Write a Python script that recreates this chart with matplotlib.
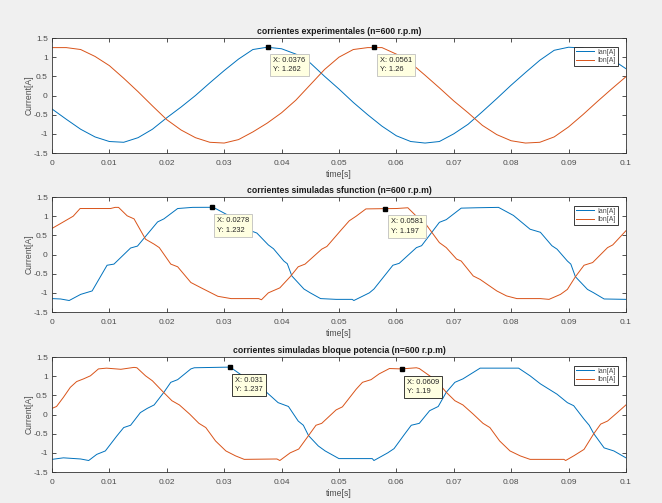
import matplotlib
matplotlib.use("Agg")
import matplotlib.pyplot as plt

plt.rcParams['font.family'] = ['Liberation Sans', 'DejaVu Sans']

# corrientes experimentales
t_exp = [0, 0.0025, 0.005, 0.0075, 0.01, 0.0125, 0.015, 0.0175, 0.02, 0.0225,
         0.025, 0.0275, 0.03, 0.0325, 0.035, 0.0375, 0.04, 0.0425, 0.045, 0.0475,
         0.05, 0.0525, 0.055, 0.0575, 0.06, 0.0625, 0.065, 0.0675, 0.07, 0.0725,
         0.075, 0.0775, 0.08, 0.0825, 0.085, 0.0875, 0.09, 0.0925, 0.095, 0.0975, 0.1]
ian_exp = [-0.35, -0.62, -0.88, -1.08, -1.2, -1.22, -1.1, -0.88, -0.58, -0.3,
           0.0, 0.33, 0.65, 0.95, 1.2, 1.26, 1.22, 1.08, 0.85, 0.5,
           0.17, -0.18, -0.5, -0.8, -1.05, -1.2, -1.24, -1.2, -1.0, -0.75,
           -0.42, -0.08, 0.27, 0.6, 0.92, 1.18, 1.26, 1.24, 1.1, 0.95, 0.7]
ibn_exp = [1.25, 1.25, 1.2, 1.02, 0.78, 0.45, 0.1, -0.27, -0.63, -0.9,
           -1.1, -1.22, -1.24, -1.15, -0.95, -0.72, -0.45, -0.12, 0.28, 0.68,
           1.0, 1.2, 1.25, 1.25, 1.08, 0.85, 0.53, 0.2, -0.14, -0.45,
           -0.78, -1.02, -1.18, -1.24, -1.22, -1.08, -0.82, -0.5, -0.16, 0.17, 0.49]

# corrientes simuladas sfunction
t_ian_sf = [0, 0.0015, 0.003, 0.005, 0.007, 0.0096, 0.0108, 0.0137, 0.0149, 0.0184,
            0.0195, 0.0219, 0.0245, 0.0278, 0.0285, 0.031, 0.0339, 0.0357, 0.0377, 0.0386,
            0.0404, 0.041, 0.0418, 0.0439, 0.045, 0.0468, 0.0495, 0.0523, 0.0526, 0.0553,
            0.0561, 0.0594, 0.0605, 0.0635, 0.0644, 0.0675, 0.0687, 0.0713, 0.074, 0.0778,
            0.0804, 0.0833, 0.0851, 0.0871, 0.088, 0.0898, 0.0904, 0.0912, 0.0933, 0.0944,
            0.0962, 0.1]
ian_sf = [-1.15, -1.16, -1.2, -1.04, -0.95, -0.28, -0.25, 0.17, 0.22, 0.85,
          0.93, 1.2, 1.23, 1.232, 1.2, 1.0, 0.66, 0.56, 0.25, 0.15,
          -0.17, -0.24, -0.56, -0.9, -1.0, -1.15, -1.17, -1.17, -1.2, -1.0,
          -0.9, -0.28, -0.23, 0.18, 0.23, 0.84, 0.91, 1.21, 1.22, 1.23,
          1.02, 0.66, 0.58, 0.23, 0.14, -0.17, -0.25, -0.58, -0.91, -1.0,
          -1.16, -1.17]
t_ibn_sf = [0, 0.0014, 0.0037, 0.0049, 0.0102, 0.011, 0.0116, 0.0131, 0.0143, 0.0163,
            0.0178, 0.0187, 0.0207, 0.0219, 0.0242, 0.026, 0.0289, 0.0312, 0.036, 0.0365,
            0.0377, 0.0397, 0.0415, 0.0429, 0.0441, 0.047, 0.0479, 0.0505, 0.0518, 0.053,
            0.0547, 0.0581, 0.06, 0.062, 0.0643, 0.0652, 0.0675, 0.0687, 0.0705, 0.0713,
            0.0734, 0.0746, 0.0775, 0.0792, 0.081, 0.0851, 0.0866, 0.0886, 0.0898, 0.0912,
            0.0927, 0.0942, 0.0968, 0.0977, 0.1]
ibn_sf = [0.68, 0.8, 1.0, 1.2, 1.2, 1.23, 1.23, 1.01, 0.93, 0.4,
          0.27, 0.18, -0.25, -0.32, -0.73, -0.87, -1.09, -1.15, -1.15, -1.18,
          -1.0, -0.87, -0.58, -0.32, -0.25, 0.14, 0.21, 0.66, 0.88, 1.0,
          1.19, 1.197, 1.2, 1.22, 0.88, 0.78, 0.31, 0.18, -0.12, -0.17,
          -0.56, -0.65, -0.95, -1.08, -1.15, -1.15, -1.17, -1.04, -0.91, -0.58,
          -0.28, -0.21, 0.18, 0.25, 0.62]

# corrientes simuladas bloque potencia
t_ian_bp = [0, 0.002, 0.005, 0.0064, 0.0078, 0.0093, 0.0113, 0.0125, 0.0137, 0.0154,
            0.0166, 0.0178, 0.0195, 0.0207, 0.0219, 0.0242, 0.0248, 0.031, 0.0313, 0.0333,
            0.0351, 0.0371, 0.0394, 0.0412, 0.0429, 0.0438, 0.0447, 0.0464, 0.0476, 0.05,
            0.0558, 0.0561, 0.0585, 0.0596, 0.0614, 0.0626, 0.064, 0.0658, 0.0673, 0.0687,
            0.0702, 0.0716, 0.0746, 0.0813, 0.0833, 0.0851, 0.088, 0.0898, 0.0909, 0.0927,
            0.0936, 0.0944, 0.0962, 0.0979, 0.1]
ian_bp = [-1.17, -1.13, -1.16, -1.2, -1.04, -0.95, -0.56, -0.34, -0.28, 0.05,
          0.16, 0.25, 0.58, 0.84, 0.91, 1.19, 1.22, 1.237, 1.21, 1.0,
          0.8, 0.62, 0.31, 0.21, -0.17, -0.28, -0.55, -0.82, -0.95, -1.15,
          -1.15, -1.2, -1.0, -0.89, -0.52, -0.28, -0.23, 0.1, 0.21, 0.58,
          0.84, 0.93, 1.21, 1.21, 1.01, 0.8, 0.53, 0.31, 0.23, -0.12,
          -0.28, -0.5, -0.87, -0.95, -1.13]
t_ibn_bp = [0, 0.0008, 0.002, 0.0032, 0.0043, 0.0055, 0.0067, 0.0081, 0.0095, 0.012,
            0.0143, 0.0148, 0.0163, 0.0175, 0.0193, 0.0209, 0.0222, 0.024, 0.0256, 0.0268,
            0.0285, 0.0303, 0.032, 0.0335, 0.0392, 0.0397, 0.0415, 0.043, 0.0447, 0.046,
            0.047, 0.0495, 0.0506, 0.053, 0.0541, 0.0556, 0.057, 0.0588, 0.0609, 0.0635,
            0.064, 0.0658, 0.067, 0.0687, 0.0702, 0.0716, 0.0734, 0.0751, 0.0763, 0.078,
            0.0798, 0.0816, 0.0833, 0.0892, 0.0895, 0.091, 0.0927, 0.0944, 0.0956, 0.0968,
            0.0985, 0.1]
ibn_bp = [0.16, 0.21, 0.45, 0.71, 0.86, 0.93, 1.01, 1.19, 1.21, 1.18,
          1.23, 1.22, 1.01, 0.88, 0.6, 0.36, 0.25, 0.01, -0.23, -0.34,
          -0.69, -0.95, -1.08, -1.17, -1.16, -1.2, -1.0, -0.9, -0.55, -0.28,
          -0.23, 0.12, 0.2, 0.66, 0.84, 0.91, 1.06, 1.2, 1.19, 1.22,
          1.2, 1.01, 0.88, 0.58, 0.36, 0.25, 0.01, -0.23, -0.34, -0.69,
          -0.95, -1.08, -1.17, -1.17, -1.2, -1.07, -0.91, -0.5, -0.25, -0.17,
          0.05, 0.25]

titles = ["corrientes experimentales (n=600 r.p.m)",
          "corrientes simuladas sfunction (n=600 r.p.m)",
          "corrientes simuladas bloque potencia (n=600 r.p.m)"]
tips = [[(0.0376, 1.262), (0.0561, 1.26)],
        [(0.0278, 1.232), (0.0581, 1.197)],
        [(0.031, 1.237), (0.0609, 1.19)]]
tip_edges = ['0.75', '0.75', '0.1']

x_ticks = [0, 0.01, 0.02, 0.03, 0.04, 0.05, 0.06, 0.07, 0.08, 0.09, 0.1]
x_labels = ['0', '0.01', '0.02', '0.03', '0.04', '0.05', '0.06', '0.07', '0.08', '0.09', '0.1']
y_ticks = [-1.5, -1, -0.5, 0, 0.5, 1, 1.5]
y_labels = ['-1.5', '-1', '-0.5', '0', '0.5', '1', '1.5']

series = [(t_exp, ian_exp, t_exp, ibn_exp),
          (t_ian_sf, ian_sf, t_ibn_sf, ibn_sf),
          (t_ian_bp, ian_bp, t_ibn_bp, ibn_bp)]

blue = '#0072BD'
red = '#D95319'
txt = '0.3'

fig = plt.figure(figsize=(6.62, 5.03), dpi=100, facecolor='#F0F0F0')
bottoms = [0.6958, 0.3797, 0.0616]
for i in range(3):
    ax = fig.add_axes([0.0785, bottoms[i], 0.867, 0.2286])
    ta, ia, tb, ib = series[i]
    ax.plot(ta, ia, color=blue, lw=0.7, label='Ian[A]')
    ax.plot(tb, ib, color=red, lw=0.7, label='Ibn[A]')
    ax.set_xlim(0, 0.1)
    ax.set_ylim(-1.5, 1.5)
    ax.set_xticks(x_ticks)
    ax.set_xticklabels(x_labels)
    ax.set_yticks(y_ticks)
    ax.set_yticklabels(y_labels)
    ax.tick_params(direction='in', top=True, right=True, length=3, width=0.6,
                   labelsize=6, colors='0.2', labelcolor=txt)
    ax.tick_params(axis='x', pad=5)
    ax.tick_params(axis='y', pad=3)
    for s in ax.spines.values():
        s.set_linewidth(0.6)
        s.set_color('0.2')
    ax.set_title(titles[i], fontsize=6.2, fontweight='bold', color='0.1', pad=3)
    ax.set_xlabel('time[s]', fontsize=6.2, color=txt, labelpad=2)
    ax.set_ylabel('Current[A]', fontsize=6.2, color=txt, labelpad=0)
    leg = ax.legend(loc='upper right', bbox_to_anchor=(0.986, 0.925), fontsize=5,
                    fancybox=False, framealpha=1, edgecolor='0.1', handlelength=2.6,
                    borderpad=0.3, labelspacing=0.2, handletextpad=0.5,
                    borderaxespad=0)
    leg.get_frame().set_linewidth(0.6)
    for t in leg.get_texts():
        t.set_color(txt)
    for (x, y) in tips[i]:
        ax.plot([x], [y], 's', color='k', ms=3.5)
        ax.annotate('X: %g\nY: %g' % (x, y), xy=(x, y), xytext=(4, -7),
                    textcoords='offset points', ha='left', va='top',
                    fontsize=5.4, color='0.15', linespacing=1.5,
                    bbox=dict(boxstyle='square,pad=0.4', fc='#FFFFE1',
                              ec=tip_edges[i], lw=0.6))

fig.savefig('out.png', dpi=100, facecolor=fig.get_facecolor())
